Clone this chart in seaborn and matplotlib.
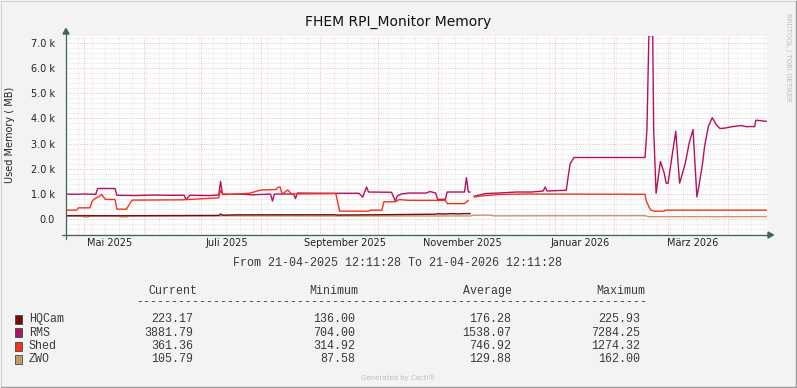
"""
FHEM RPI_Monitor Memory - rrdtool style chart rebuilt with seaborn
"""

import pandas as pd
import matplotlib
matplotlib.use("Agg")
import matplotlib.pyplot as plt
import matplotlib.dates as mdates
from matplotlib.ticker import MultipleLocator, FuncFormatter, NullFormatter
from matplotlib.patches import Rectangle, Polygon
import seaborn as sns

W, H = 797, 388

start = pd.Timestamp("2025-04-21 12:11:28")
end = pd.Timestamp("2026-04-21 12:11:28")

series_names = ["HQCam", "RMS", "Shed", "ZWO"]
series_colors = ["#7A0A0A", "#B0135F", "#F5321E", "#C49A6C"]

# None marks a gap in the data
hqcam_dates = ["2025-04-21 13:00", "2025-05-20", "2025-06-20", "2025-07-10", "2025-07-11",
               "2025-07-12", "2025-07-20", "2025-09-09", "2025-09-10", "2025-10-10",
               "2025-10-31", "2025-11-01", "2025-11-05", "2025-11-08", "2025-11-12",
               "2025-11-15", "2025-11-18"]
hqcam_values = [140, 138, 145, 150, 205, 160, 175, 178, 165, 185,
                200, 218, 208, 224, 212, 225, 223]

rms_dates = ["2025-04-21 13:00", "2025-04-26", "2025-05-01", "2025-05-07", "2025-05-08",
             "2025-05-17", "2025-05-18", "2025-05-28", "2025-06-05", "2025-06-14",
             "2025-06-22", "2025-06-23", "2025-06-25", "2025-07-05", "2025-07-10",
             "2025-07-11", "2025-07-12", "2025-07-20", "2025-07-28", "2025-08-06",
             "2025-08-07", "2025-08-08", "2025-08-18", "2025-08-19", "2025-08-20",
             "2025-09-05", "2025-09-21", "2025-09-23", "2025-09-25", "2025-09-26",
             "2025-10-08", "2025-10-10", "2025-10-11", "2025-10-13", "2025-10-17",
             "2025-10-26", "2025-10-28", "2025-10-31", "2025-11-01", "2025-11-05",
             "2025-11-06", "2025-11-15", "2025-11-16", "2025-11-17", "2025-11-18",
             "2025-11-19", "2025-11-20", "2025-11-26", "2025-12-03", "2025-12-12",
             "2025-12-20", "2025-12-26", "2025-12-27", "2025-12-28", "2026-01-07",
             "2026-01-08", "2026-01-09", "2026-01-11", "2026-02-17", "2026-02-18",
             "2026-02-19", "2026-02-21", "2026-02-21 12:00", "2026-02-22 18:00", "2026-02-25",
             "2026-02-27", "2026-02-28", "2026-03-01", "2026-03-02", "2026-03-05",
             "2026-03-07", "2026-03-08", "2026-03-10", "2026-03-12", "2026-03-14",
             "2026-03-16", "2026-03-17", "2026-03-19", "2026-03-20", "2026-03-22",
             "2026-03-24", "2026-03-26", "2026-03-28", "2026-03-31", "2026-04-03",
             "2026-04-08", "2026-04-11", "2026-04-14", "2026-04-15", "2026-04-15 18:00",
             "2026-04-21 12:00"]
rms_values = [1000, 990, 1000, 990, 1220,
              1220, 950, 940, 960, 950,
              950, 780, 950, 940, 960,
              1500, 980, 1000, 970, 1000,
              720, 1000, 1000, 820, 1040,
              1030, 1030, 880, 1280, 1080,
              1070, 720, 920, 1000, 1040,
              1040, 1100, 1040, 790, 790,
              1080, 1080, 1650, 1080, 1080,
              None, 910, 1020, 1040, 1080,
              1080, 1120, 1280, 1120, 1150,
              1700, 2200, 2450, 2450, 3560,
              7284, 7284, 3560, 1030, 2290,
              1830, 1430, 1430, 1960, 3490,
              1430, 1690, 2230, 3030, 3560,
              890, 1290, 2230, 2890, 3690,
              4030, 3760, 3600, 3620, 3670,
              3720, 3670, 3680, 3670, 3930,
              3882]

shed_dates = ["2025-04-21 13:00", "2025-04-27", "2025-04-28", "2025-05-04", "2025-05-05",
              "2025-05-06", "2025-05-09", "2025-05-10", "2025-05-12", "2025-05-17",
              "2025-05-18", "2025-05-23", "2025-05-25", "2025-05-26", "2025-06-21",
              "2025-07-03", "2025-07-10", "2025-07-11", "2025-07-12", "2025-07-17",
              "2025-07-26", "2025-08-01", "2025-08-09", "2025-08-10", "2025-08-11",
              "2025-08-12", "2025-08-15", "2025-08-17", "2025-09-09", "2025-09-11",
              "2025-09-26", "2025-09-27", "2025-10-03", "2025-10-04", "2025-10-10",
              "2025-10-12", "2025-10-17", "2025-11-05", "2025-11-06", "2025-11-15",
              "2025-11-17", "2025-11-18", "2025-11-20", "2025-11-22", "2025-11-28",
              "2025-12-03", "2025-12-17", "2026-02-17", "2026-02-17 12:00", "2026-02-19",
              "2026-02-20", "2026-02-22", "2026-02-27", "2026-02-27 12:00", "2026-04-21 12:00"]
shed_values = [360, 360, 453, 453, 693,
               787, 920, 987, 787, 787,
               400, 400, 653, 760, 770,
               820, 850, 1150, 1000, 990,
               1030, 1160, 1180, 1274, 1274,
               1000, 1160, 1000, 1020, 320,
               320, 360, 360, 693, 693,
               780, 750, 750, 620, 620,
               750, None, 880, 910, 950,
               980, 1000, 990, 760, 493,
               360, 320, 320, 360, 361]

zwo_dates = ["2025-04-21 13:00", "2025-04-30", "2025-05-01", "2025-05-03", "2025-05-04",
             "2025-05-19", "2025-05-20", "2025-05-23", "2025-05-24", "2025-07-11",
             "2025-09-10", "2025-11-18", "2025-11-20", "2025-11-29", "2025-11-30",
             "2026-01-10", "2026-02-17", "2026-02-19", "2026-03-31", "2026-04-01",
             "2026-04-02", "2026-04-21 12:00"]
zwo_values = [130, 128, 88, 88, 130,
              128, 90, 90, 130, 135,
              128, 132, 160, 160, 135,
              140, 142, 100, 100, 110,
              100, 106]

# legend table (GPRINT values)
stats_current = ["223.17", "3881.79", "361.36", "105.79"]
stats_minimum = ["136.00", "704.00", "314.92", "87.58"]
stats_average = ["176.28", "1538.07", "746.92", "129.88"]
stats_maximum = ["225.93", "7284.25", "1274.32", "162.00"]

month_labels = ["Mai 2025", "Juli 2025", "September 2025", "November 2025", "Januar 2026", "März 2026"]
month_label_dates = ["2025-05-14", "2025-07-14", "2025-09-14", "2025-11-14", "2026-01-14", "2026-03-14"]

AXIS_COLOR = "#3F6655"
TEXT_COLOR = "#222222"
MONO_COLOR = "#3A3A3A"


def build_frame(name, dates, values):
    """Turn one series into a long frame; a None value starts a new segment."""
    rows = []
    seg = 0
    for d, v in zip(dates, values):
        if v is None:
            seg += 1
            continue
        rows.append({"date": pd.Timestamp(d), "value": v, "unit": f"{name}-{seg}"})
    return pd.DataFrame(rows)


sns.set_style("white")
plt.rcParams["font.family"] = ["DejaVu Sans"]

fig = plt.figure(figsize=(W / 100, H / 100), dpi=100, facecolor="#F3F3F3")

# plot area in pixels: x 66..767, y 35.5..235
ax = fig.add_axes([66 / W, 1 - 235 / H, 701 / W, 199.5 / H])
ax.set_facecolor("#FDFDFD")

data = {
    "HQCam": (hqcam_dates, hqcam_values),
    "RMS": (rms_dates, rms_values),
    "Shed": (shed_dates, shed_values),
    "ZWO": (zwo_dates, zwo_values),
}
palette = dict(zip(series_names, series_colors))

# ZWO sits under HQCam
for name in ["ZWO", "HQCam", "RMS", "Shed"]:
    df = build_frame(name, *data[name])
    sns.lineplot(data=df, x="date", y="value", units="unit", estimator=None,
                 color=palette[name], linewidth=1.0, ax=ax, legend=False)

ax.set_xlim(start, end)
ax.set_ylim(-625, 7290)
ax.set_xlabel("")
ax.set_ylabel("")

ax.xaxis.set_major_locator(mdates.MonthLocator())
ax.xaxis.set_minor_locator(mdates.WeekdayLocator(byweekday=mdates.MO))
ax.xaxis.set_major_formatter(NullFormatter())
ax.yaxis.set_major_locator(MultipleLocator(1000))
ax.yaxis.set_minor_locator(MultipleLocator(200))
ax.yaxis.set_major_formatter(FuncFormatter(lambda v, p: "0.0" if v == 0 else f"{v / 1000:.1f} k"))

ax.set_axisbelow(True)
ax.grid(which="minor", color="#DDDDDD", linestyle=(0, (1, 1.5)), linewidth=0.6)
ax.grid(which="major", color="#F3B4B4", linestyle=(0, (1, 1.5)), linewidth=0.65)

ax.tick_params(axis="both", which="major", direction="inout", length=4, width=0.7,
               color=AXIS_COLOR, labelsize=7, labelcolor=TEXT_COLOR)
ax.tick_params(axis="both", which="minor", direction="inout", length=2, width=0.6, color=AXIS_COLOR)
ax.tick_params(axis="y", pad=6)
for s in ax.spines.values():
    s.set_visible(False)

# month labels (rrdtool centres them in the middle of the month)
for lab, d in zip(month_labels, month_label_dates):
    ax.text(pd.Timestamp(d), -8 / 199.5, lab, transform=ax.get_xaxis_transform(),
            ha="center", va="center", fontsize=7, color=TEXT_COLOR)

# overlay in pixel coordinates for frame, arrows, titles and legend
ov = fig.add_axes([0, 0, 1, 1], zorder=5)
ov.set_xlim(0, W)
ov.set_ylim(H, 0)
ov.axis("off")
ov.patch.set_alpha(0)

# image frame
ov.plot([0.5, W - 0.5], [0.5, 0.5], color="#D0D0D0", lw=0.8)
ov.plot([0.5, 0.5], [0.5, H - 0.5], color="#D0D0D0", lw=0.8)
ov.plot([0.5, W - 0.5], [H - 0.8, H - 0.8], color="#9A9A9A", lw=1.0)
ov.plot([W - 0.8, W - 0.8], [0.5, H - 0.5], color="#9A9A9A", lw=1.0)

# axes with arrows
ov.plot([66, 66], [239, 33], color=AXIS_COLOR, lw=0.9)
ov.add_patch(Polygon([[66, 28.5], [63, 34], [69, 34]], closed=True, color=AXIS_COLOR))
ov.plot([62, 768], [235, 235], color=AXIS_COLOR, lw=0.9)
ov.add_patch(Polygon([[773.5, 235], [768, 232], [768, 238]], closed=True, color=AXIS_COLOR))

ov.text(398.5, 22, "FHEM RPI_Monitor Memory", ha="center", va="center", fontsize=10, color="#111111")
ov.text(10, 135, "Used Memory ( MB)", rotation=90, ha="center", va="center", fontsize=7, color=TEXT_COLOR)
ov.text(788, 57, "RRDTOOL / TOBI OETIKER", rotation=270, ha="center", va="center",
        fontsize=5, color="#BDBDBD")

mono = ["Liberation Mono", "DejaVu Sans Mono"]
ov.text(398, 263, "From 21-04-2025 12:11:28 To 21-04-2026 12:11:28", ha="center", va="center",
        fontsize=8.4, family=mono, color=MONO_COLOR)

# legend table
header_y = 291
for lab, xr in zip(["Current", "Minimum", "Average", "Maximum"], [197, 358, 512, 645]):
    ov.text(xr, header_y, lab, ha="right", va="center", fontsize=8.4, family=mono, color=MONO_COLOR)
ov.text(136, 302, "-" * 73, ha="left", va="center", fontsize=8.4, family=mono, color=MONO_COLOR)

row_y = [319, 332.5, 346, 359.5]
for i, name in enumerate(series_names):
    y = row_y[i]
    ov.add_patch(Rectangle((15.5, y - 4.5), 7, 9, facecolor=series_colors[i],
                           edgecolor="#2F4F4F", lw=0.6))
    ov.text(29, y, name, ha="left", va="center", fontsize=8.4, family=mono, color=MONO_COLOR)
    for col, xr in zip([stats_current, stats_minimum, stats_average, stats_maximum],
                       [193, 355, 511, 640]):
        ov.text(xr, y, col[i], ha="right", va="center", fontsize=8.4, family=mono, color=MONO_COLOR)

ov.text(398, 378, "Generated by Cacti®", ha="center", va="center", fontsize=5, color="#BDBDBD")

fig.savefig("out.png", dpi=100, facecolor=fig.get_facecolor())
